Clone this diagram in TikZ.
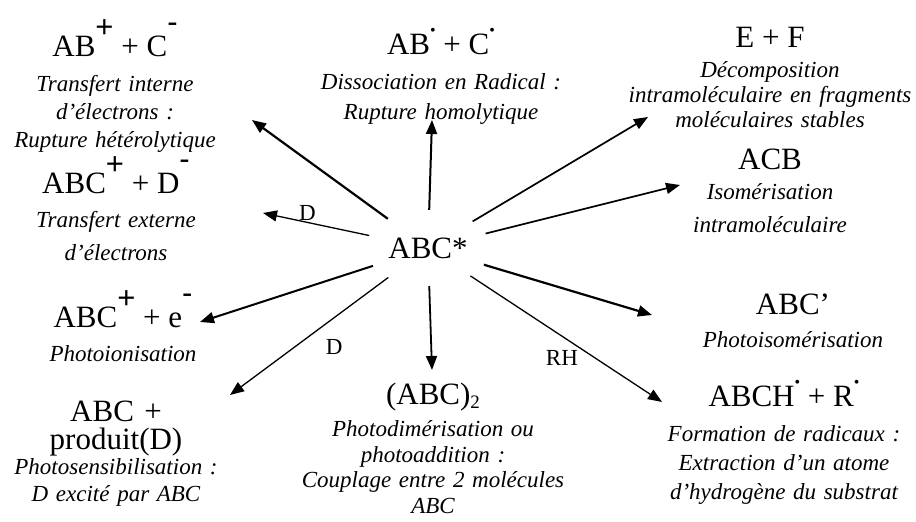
\documentclass[tikz,border=0pt]{standalone}
\usepackage{fontspec}
\setmainfont{Liberation Serif}
\setsansfont{Liberation Sans}
\usetikzlibrary{arrows.meta,positioning,shapes.geometric}

% charges, radical dots and index placed by hand
\newcommand{\cplus}{\raisebox{19pt}{\sffamily +}}
\newcommand{\cmoins}{\raisebox{24pt}{\sffamily -}}
\newcommand{\rdot}{\raisebox{19pt}{\fontsize{16}{16}\selectfont\textbullet}}
\newcommand{\idx}[1]{\raisebox{-4pt}{\fontsize{19}{19}\selectfont #1}}

\tikzset{
  formule/.style={font=\fontsize{31}{28}\selectfont,align=center,inner sep=0pt,anchor=base},
  legende/.style={font=\fontsize{23}{#1}\selectfont\itshape,text width=330pt,align=center,
    inner sep=0pt,anchor=base,execute at begin node=\selectfont},
  legende/.default=28,
  etiq/.style={font=\fontsize{23}{23}\selectfont,inner sep=0pt,anchor=center},
}

\begin{document}
\begin{tikzpicture}[x=1pt,y=1pt,>={Triangle[length=14pt,width=11pt]}]
  \useasboundingbox (0,0) rectangle (916,522);

  % excited molecule
  \node[ellipse,minimum width=124pt,minimum height=76pt,inner sep=0pt,
    font=\fontsize{31}{31}\selectfont] (abc) at (428,274) {ABC*};

  % products, left column
  \node[formule] (ab) at (115,465) {AB\cplus{} + C\cmoins};
  \node[legende] (ab-l) at ([yshift=-35pt]ab.base)
    {Transfert interne\\d’électrons :\\Rupture hétérolytique};
  \node[formule] (ext) at (116,328) {ABC\cplus{} + D\cmoins};
  \node[legende=33] (ext-l) at ([yshift=-34pt]ext.base)
    {Transfert externe\\d’électrons};
  \node[formule] (ion) at (123,194) {ABC\cplus{} + e\cmoins};
  \node[legende] (ion-l) at ([yshift=-34pt]ion.base) {Photoionisation};
  \node[formule,text width=200pt,execute at begin node=\selectfont] (sens) at (116,100)
    {ABC +\\produit(D)};
  \node[legende=27] (sens-l) at ([yshift=-53pt]sens.base)
    {Photosensibilisation :\\D excité par ABC};

  % products, middle
  \node[formule] (rad) at (441,467) {AB\rdot{} + C\rdot};
  \node[legende=30] (rad-l) at ([yshift=-35pt]rad.base)
    {Dissociation en Radical :\\Rupture homolytique};
  \node[formule] (dim) at (433,117) {(ABC)\idx{2}};
  \node[legende=25.5] (dim-l) at ([yshift=-32pt]dim.base)
    {Photodimérisation ou\\photoaddition :\\Couplage entre 2 molécules\\ABC};

  % products, right column
  \node[formule] (ef) at (770,474) {E + F};
  \node[legende=25] (ef-l) at ([yshift=-30pt]ef.base)
    {Décomposition\\intramoléculaire en fragments\\moléculaires stables};
  \node[formule] (acb) at (770,352) {ACB};
  \node[legende=33] (acb-l) at ([yshift=-30pt]acb.base)
    {Isomérisation\\intramoléculaire};
  \node[formule] (iso) at (793,207) {ABC’};
  \node[legende] (iso-l) at ([yshift=-33pt]iso.base) {Photoisomérisation};
  \node[formule] (rh) at (784,115) {ABCH\rdot{} + R\rdot};
  \node[legende=29] (rh-l) at ([yshift=-35pt]rh.base)
    {Formation de radicaux :\\Extraction d’un atome\\d’hydrogène du substrat};

  % arrow tips
  \coordinate (ab-p) at (252,402);
  \coordinate (rad-p) at (432,402);
  \coordinate (ef-p) at (648,405);
  \coordinate (acb-p) at (680,337);
  \coordinate (ext-p) at (263,309);
  \coordinate (ion-p) at (200,200);
  \coordinate (sens-p) at (230,127);
  \coordinate (dim-p) at (432,152);
  \coordinate (iso-p) at (652,207);
  \coordinate (rh-p) at (662,120);

  \draw[->,line width=2.2pt] (abc) -- (ab-p);
  \draw[->,line width=2pt] (abc) -- (rad-p);
  \draw[->,line width=1.7pt] (abc) -- (ef-p);
  \draw[->,line width=1.7pt] (abc) -- (acb-p);
  \draw[->,line width=1.3pt] (abc) -- node[etiq,pos=.6,shift={(2pt,9pt)}] {D} (ext-p);
  \draw[->,line width=2pt] (abc) -- (ion-p);
  \draw[->,line width=1.3pt] (abc) -- node[etiq,pos=.43,shift={(14pt,-19pt)}] {D} (sens-p);
  \draw[->,line width=1.8pt] (abc) -- (dim-p);
  \draw[->,line width=2.2pt] (abc) -- (iso-p);
  \draw[->,line width=1.3pt] (abc) -- node[etiq,pos=.53,shift={(-10pt,-15pt)}] {RH} (rh-p);
\end{tikzpicture}
\end{document}
